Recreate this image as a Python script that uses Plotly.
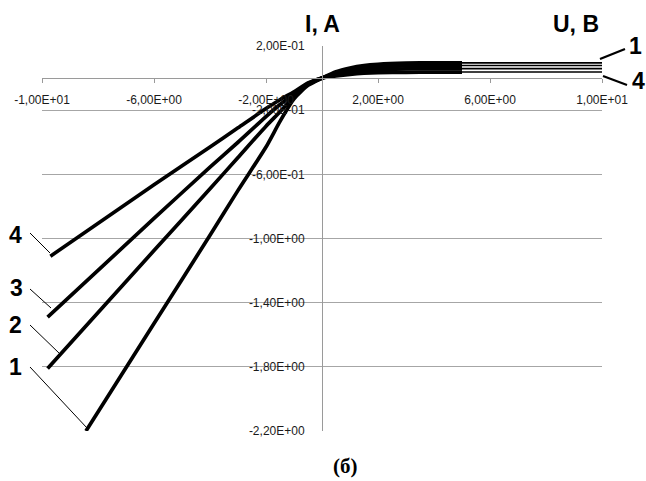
import plotly.graph_objects as go

# ---- data ----
curve_names = ["1", "2", "3", "4"]
u_pos = [0.5, 1, 1.5, 2, 3, 4, 5]
u1 = [-8.43, -6, -4, -3, -2, -1.5, -1, -0.5, 0] + u_pos
i1 = [-2.20, -1.53, -0.98, -0.70, -0.43, -0.27, -0.13, -0.045, 0,
      0.040, 0.063, 0.078, 0.086, 0.093, 0.095, 0.095]
u2 = [-9.8, -6, -4, -3, -2, -1.5, -1, -0.5, 0] + u_pos
i2 = [-1.81, -1.075, -0.69, -0.495, -0.30, -0.21, -0.115, -0.04, 0,
      0.030, 0.050, 0.063, 0.070, 0.076, 0.078, 0.078]
u3 = [-9.8, -6, -4, -3, -2, -1.5, -1, -0.5, 0] + u_pos
i3 = [-1.49, -0.875, -0.555, -0.40, -0.24, -0.165, -0.10, -0.035, 0,
      0.022, 0.037, 0.047, 0.053, 0.057, 0.059, 0.059]
u4 = [-9.7, -6, -4, -3, -2, -1.5, -1, -0.5, 0] + u_pos
i4 = [-1.11, -0.665, -0.43, -0.31, -0.19, -0.135, -0.085, -0.03, 0,
      0.013, 0.023, 0.030, 0.034, 0.036, 0.037, 0.0375]
u_tail = [5, 10]
i_tail = [0.095, 0.078, 0.059, 0.0375]

x_tickvals = [-10, -6, -2, 2, 6, 10]
x_ticktext = ["-1,00E+01", "-6,00E+00", "-2,00E+00", "2,00E+00", "6,00E+00", "1,00E+01"]
y_tickvals = [0.2, -0.2, -0.6, -1.0, -1.4, -1.8, -2.2]
y_ticktext = ["2,00E-01", "-2,00E-01", "-6,00E-01", "-1,00E+00", "-1,40E+00", "-1,80E+00", "-2,20E+00"]
grid_vals = [-0.2, -0.6, -1.0, -1.4, -1.8, -2.2]

fig = go.Figure()
for u, i in [(u1, i1), (u2, i2), (u3, i3), (u4, i4)]:
    fig.add_trace(go.Scatter(x=u, y=i, mode="lines",
                             line=dict(color="black", width=3.7, shape="spline", smoothing=0.6),
                             showlegend=False, hoverinfo="skip"))
for v in i_tail:
    fig.add_trace(go.Scatter(x=u_tail, y=[v, v], mode="lines",
                             line=dict(color="black", width=1.6),
                             showlegend=False, hoverinfo="skip"))
# invisible trace on the grid axis
fig.add_trace(go.Scatter(x=[0], y=[0], yaxis="y2", mode="markers",
                         marker=dict(opacity=0), showlegend=False, hoverinfo="skip"))

L, R, T, B = 42, 44, 46, 50
W, H = 646, 481
pw, ph = W - L - R, H - T - B


def px(xp):
    return (xp - L) / pw


def py(yp):
    return (H - B - yp) / ph


tickfont = dict(family="Liberation Sans, Arial", size=12, color="#1a1a1a")
fig.update_layout(
    width=W, height=H,
    margin=dict(l=L, r=R, t=T, b=B),
    paper_bgcolor="white", plot_bgcolor="white",
    xaxis=dict(range=[-10, 10], domain=[0, 1], anchor="free", position=2.2 / 2.4,
               tickvals=x_tickvals, ticktext=x_ticktext, tickfont=tickfont,
               ticks="outside", ticklen=4, tickcolor="#9a9a9a",
               showline=True, linecolor="#9a9a9a", linewidth=1,
               showgrid=False, zeroline=False, ticklabelstandoff=7),
    yaxis=dict(range=[-2.2, 0.2], domain=[0, 1], anchor="free", position=0.5,
               tickvals=y_tickvals, ticktext=y_ticktext, tickfont=tickfont,
               ticks="", showline=True, linecolor="#9a9a9a", linewidth=1,
               showgrid=False, zeroline=False, ticklabelstandoff=15),
    yaxis2=dict(range=[-2.2, 0.2], overlaying="y", anchor="free", position=0,
                tickvals=grid_vals, showticklabels=False, ticks="",
                showgrid=True, gridcolor="#a6a6a6", gridwidth=1,
                showline=False, zeroline=False),
)

lab = dict(family="Liberation Sans, Arial", size=23, color="black")
annots = [
    ("I, A", 322, 24, "center"),
    ("U, B", 576, 24, "center"),
    ("1", 635, 46, "center"),
    ("4", 638, 81, "center"),
    ("4", 15, 235, "center"),
    ("3", 16, 288, "center"),
    ("2", 15, 325, "center"),
    ("1", 15, 367, "center"),
]
for text, xp, yp, al in annots:
    fig.add_annotation(x=px(xp), y=py(yp), xref="paper", yref="paper", text="<b>%s</b>" % text,
                       showarrow=False, font=lab, xanchor=al, yanchor="middle")
fig.add_annotation(x=px(345), y=py(466), xref="paper", yref="paper", text="<b>(б)</b>",
                   showarrow=False, font=dict(family="Liberation Serif, Times New Roman", size=21, color="black"),
                   xanchor="center", yanchor="middle")

leaders = [
    (600, 59, 625, 49, 2.2),
    (603, 76, 627, 85, 2.2),
    (30, 233, 50, 253, 1),
    (30, 289, 51, 308, 1),
    (30, 325, 60, 354, 1),
    (30, 367, 87, 428, 1),
]
for x0, y0, x1, y1, w in leaders:
    fig.add_shape(type="line", xref="paper", yref="paper", x0=px(x0), y0=py(y0), x1=px(x1), y1=py(y1),
                  line=dict(color="black", width=w))

fig.write_html("out.html", config={"displayModeBar": False},
               post_script="document.body.style.margin='0';document.body.style.overflow='hidden';")
